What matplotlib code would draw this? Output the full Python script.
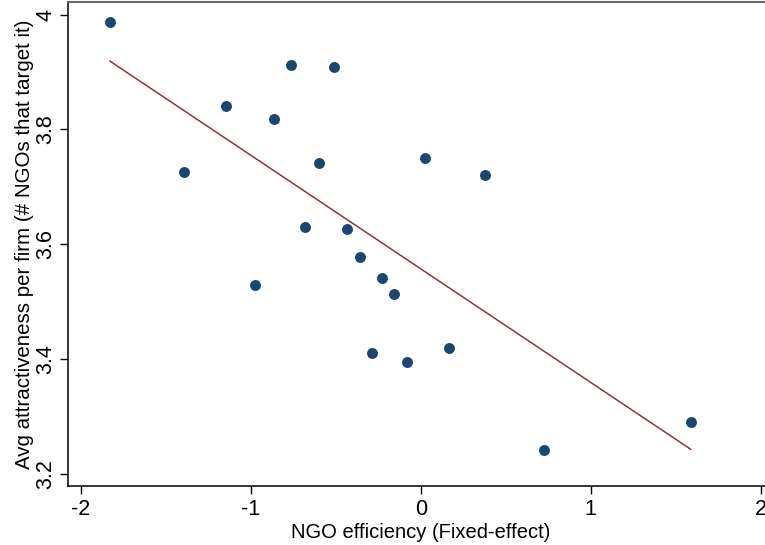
import numpy as np
import matplotlib
matplotlib.use("Agg")
import matplotlib.pyplot as plt

plt.rcParams['font.family'] = ['Liberation Sans', 'DejaVu Sans']

# NGO efficiency (fixed effect) vs avg attractiveness per firm
ngo_eff = [-1.829, -1.392, -1.149, -0.976, -0.865, -0.763, -0.682, -0.600, -0.510, -0.437,
           -0.357, -0.290, -0.231, -0.159, -0.084, 0.024, 0.166, 0.375, 0.725, 1.588]
attract = [3.988, 3.726, 3.840, 3.529, 3.818, 3.912, 3.630, 3.741, 3.909, 3.627,
           3.577, 3.410, 3.541, 3.513, 3.395, 3.750, 3.419, 3.721, 3.241, 3.291]

# fitted line (ends at min / max of x)
fit_x = [-1.829, 1.588]
fit_y = [3.919, 3.243]

x_ticks = [-2, -1, 0, 1, 2]
y_ticks = [3.2, 3.4, 3.6, 3.8, 4]
y_tick_labels = ['3.2', '3.4', '3.6', '3.8', '4']

fig = plt.figure(figsize=(7.65, 5.45), dpi=100)
ax = fig.add_axes([68 / 765, 59 / 545, 1 - 68 / 765 + 0.01, 484 / 545])

ax.scatter(ngo_eff, attract, s=62, color='#1a476f', linewidths=0, zorder=3)
ax.plot(fit_x, fit_y, color='#90353b', lw=1.1, zorder=2)

ax.set_xlim(-2.076, 2.07)
ax.set_ylim(3.179, 4.022)
ax.set_xticks(x_ticks)
ax.set_xticklabels([str(v) for v in x_ticks])
ax.set_yticks(y_ticks)
ax.set_yticklabels(y_tick_labels, rotation=90, va='center')

ax.tick_params(axis='both', direction='out', length=5.5, width=1, labelsize=15.5, color='black')
ax.tick_params(axis='x', pad=4)
ax.tick_params(axis='y', pad=3)

ax.spines['right'].set_visible(False)
ax.spines['top'].set_color('#666666')
ax.spines['top'].set_linewidth(1.5)
ax.spines['left'].set_linewidth(1.1)
ax.spines['bottom'].set_linewidth(1.1)

ax.set_xlabel('NGO efficiency (Fixed-effect)', fontsize=14.5, labelpad=2)
ax.set_ylabel('Avg attractiveness per firm (# NGOs that target it)', fontsize=14.8, labelpad=1)

fig.savefig('out.png', dpi=100)
